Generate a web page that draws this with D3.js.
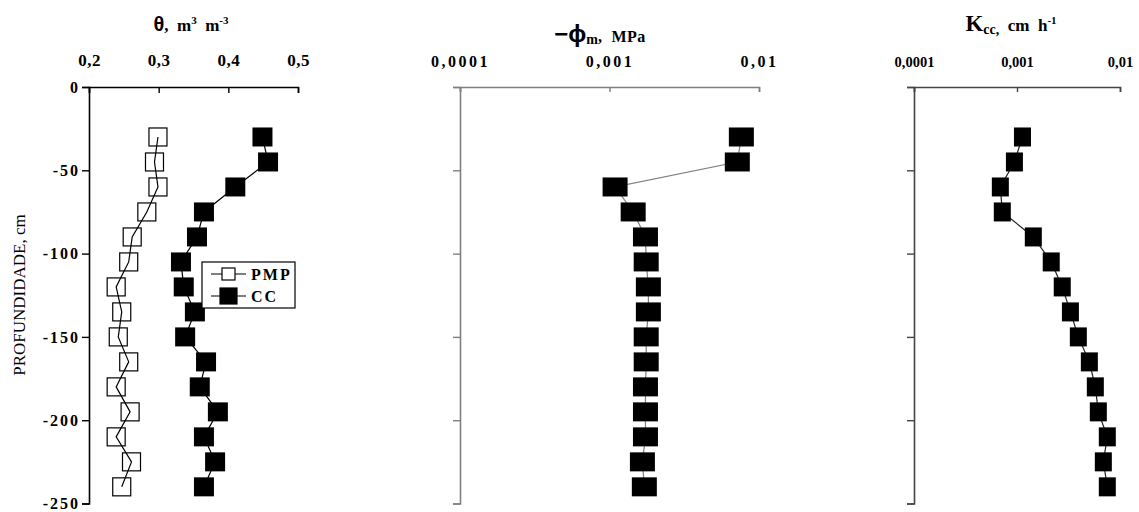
<!DOCTYPE html>
<html>
<head>
<meta charset="utf-8">
<script src="https://cdn.jsdelivr.net/npm/d3@7"></script>
<style>
  body { margin: 0; background: #fff; }
  text { font-family: "Liberation Serif", "Times New Roman", serif; white-space: pre; }
  .tick text { font-weight: bold; fill: #000; }
</style>
</head>
<body>
<svg id="chart" width="1139" height="512"></svg>
<script>
(function () {
    'use strict';

    // depth (cm)
    var depth = [-30, -45, -60, -75, -90, -105, -120, -135, -150, -165, -180, -195, -210, -225, -240];
    // water content, m3 m-3
    var thetaPMP = [0.299, 0.294, 0.299, 0.283, 0.262, 0.257, 0.239, 0.247, 0.242, 0.257, 0.239, 0.259, 0.239, 0.261, 0.247];
    var thetaCC = [0.449, 0.457, 0.410, 0.365, 0.355, 0.332, 0.336, 0.352, 0.338, 0.368, 0.359, 0.385, 0.365, 0.381, 0.365];
    // matric potential, MPa
    var phiCC = [0.00762, 0.00716, 0.00109, 0.00144, 0.00174, 0.00176, 0.00182, 0.00182, 0.00176, 0.00176, 0.00174, 0.00174, 0.00174, 0.00166, 0.00171];
    // conductivity at field capacity, cm h-1
    var kCC = [0.00113, 0.000944, 0.000689, 0.00072, 0.00144, 0.00215, 0.00275, 0.0033, 0.00394, 0.00504, 0.00576, 0.00616, 0.00753, 0.00689, 0.00753];

    var yTicks = [0, -50, -100, -150, -200, -250];
    var thetaTicks = [0.2, 0.3, 0.4, 0.5];
    var logTicks = [0.0001, 0.001, 0.01];
    var logLabels = ['0,0001', '0,001', '0,01'];

    var svg = d3.select('#chart');
    var y = d3.scaleLinear().domain([0, -250]).range([87, 503.5]);

    var comma = function (d) { return String(d).replace('.', ','); };

    function drawAxes(xAx, left, color, fs, ls, noYLabels) {
        var gx = svg.append('g').attr('transform', 'translate(0,87)').call(xAx);
        var gy = svg.append('g').attr('transform', 'translate(' + left + ',0)')
            .call(d3.axisLeft(y).tickValues(yTicks).tickSize(7).tickPadding(2)
                .tickFormat(noYLabels ? '' : function (d) { return String(d); }));
        [gx, gy].forEach(function (g) {
            g.select('.domain').attr('stroke', color).attr('stroke-width', 1.6);
            g.selectAll('.tick line').attr('stroke', color).attr('stroke-width', 1.4);
        });
        gx.selectAll('.tick text').style('font-size', fs + 'px').style('letter-spacing', ls + 'px');
        gy.selectAll('.tick text').style('font-size', '16px').style('letter-spacing', '2px');
    }

    function series(x, vals, opt) {
        var pts = vals.map(function (v, i) { return [x(v), y(depth[i])]; });
        var line = svg.append('path').datum(pts)
            .attr('d', d3.line())
            .attr('fill', 'none')
            .attr('stroke', opt.line)
            .attr('stroke-width', 1.2);
        svg.append('g').selectAll('rect').data(pts).enter().append('rect')
            .attr('x', function (p) { return p[0] - opt.w / 2; })
            .attr('y', function (p) { return p[1] - opt.h / 2; })
            .attr('width', opt.w).attr('height', opt.h)
            .attr('fill', opt.fill)
            .attr('stroke', opt.stroke || 'none')
            .attr('stroke-width', 1.2);
        if (opt.lineOnTop) line.raise();
    }

    // ---- panel 1: theta
    var x1 = d3.scaleLinear().domain([0.2, 0.5]).range([89, 298]);
    drawAxes(d3.axisTop(x1).tickValues(thetaTicks).tickSizeInner(-6).tickSizeOuter(-6)
        .tickPadding(21).tickFormat(comma), x1(0.2), '#000', 17, 0.5, false);
    series(x1, thetaPMP, { w: 18, h: 18, fill: '#fff', stroke: '#000', line: '#000', lineOnTop: true });
    series(x1, thetaCC, { w: 20, h: 19, fill: '#000', line: '#000' });

    // ---- panel 2: matric potential
    var x2 = d3.scaleLog().domain([0.0001, 0.01]).range([460, 759]);
    drawAxes(d3.axisTop(x2).tickValues(logTicks).tickSizeInner(-5).tickSizeOuter(-5)
        .tickPadding(20).tickFormat(function (d, i) { return logLabels[i]; }), 460, '#808080', 16, 2.5, true);
    series(x2, phiCC, { w: 25, h: 19, fill: '#000', line: '#808080' });

    // ---- panel 3: conductivity
    var x3 = d3.scaleLog().domain([0.0001, 0.01]).range([914, 1120]);
    drawAxes(d3.axisTop(x3).tickValues(logTicks).tickSizeInner(-5).tickSizeOuter(-5)
        .tickPadding(20).tickFormat(function (d, i) { return logLabels[i]; }), 914, '#444', 14.5, 0, true);
    series(x3, kCC, { w: 17, h: 19, fill: '#000', line: '#222' });

    // ---- titles
    var t1 = svg.append('text').attr('x', 191).attr('y', 31).attr('text-anchor', 'middle')
        .style('font-weight', 'bold').style('font-size', '17px');
    t1.append('tspan').text('θ').style('font-family', '"Liberation Sans", Arial, sans-serif').style('font-size', '20px');
    t1.append('tspan').text(',  m');
    t1.append('tspan').text('3').attr('dy', -7).style('font-size', '11px');
    t1.append('tspan').text('  m').attr('dy', 7);
    t1.append('tspan').text('-3').attr('dy', -7).style('font-size', '11px');

    var t2 = svg.append('text').attr('x', 600).attr('y', 42).attr('text-anchor', 'middle')
        .style('font-weight', 'bold').style('font-size', '16px');
    t2.append('tspan').text('−ϕ').style('font-family', '"Liberation Sans", Arial, sans-serif').style('font-size', '24px');
    t2.append('tspan').text('m').attr('dy', 2).style('font-size', '14px');
    t2.append('tspan').text(',  MPa').attr('dy', -2).style('letter-spacing', '0.5px');

    var t3 = svg.append('text').attr('x', 1011).attr('y', 31).attr('text-anchor', 'middle')
        .style('font-size', '17px').style('font-weight', 'bold');
    t3.append('tspan').text('K').style('font-size', '23px');
    t3.append('tspan').text('cc,').attr('dy', 3).style('font-size', '14px');
    t3.append('tspan').text('  cm  h').attr('dy', -3);
    t3.append('tspan').text('-1').attr('dy', -7).style('font-size', '11px');

    // ---- y label
    svg.append('text').attr('transform', 'translate(25,295) rotate(-90)')
        .attr('text-anchor', 'middle').style('font-size', '17px')
        .text('PROFUNDIDADE, cm');

    // ---- legend
    var lg = svg.append('g');
    lg.append('rect').attr('x', 202).attr('y', 262).attr('width', 93).attr('height', 46)
        .attr('fill', '#fff').attr('stroke', '#000').attr('stroke-width', 1.2);
    var items = [
        { name: 'PMP', y: 274, w: 13, h: 12, fill: '#fff' },
        { name: 'CC', y: 296, w: 17, h: 16, fill: '#000' }
    ];
    items.forEach(function (it) {
        lg.append('line').attr('x1', 211).attr('x2', 246).attr('y1', it.y).attr('y2', it.y)
            .attr('stroke', '#000').attr('stroke-width', 1.2);
        lg.append('rect').attr('x', 228.5 - it.w / 2).attr('y', it.y - it.h / 2)
            .attr('width', it.w).attr('height', it.h)
            .attr('fill', it.fill).attr('stroke', '#000').attr('stroke-width', 1.2);
        lg.append('text').attr('x', 251).attr('y', it.y + 5.5)
            .style('font-weight', 'bold').style('font-size', '16px').style('letter-spacing', '2px')
            .text(it.name);
    });
}());
</script>
</body>
</html>
